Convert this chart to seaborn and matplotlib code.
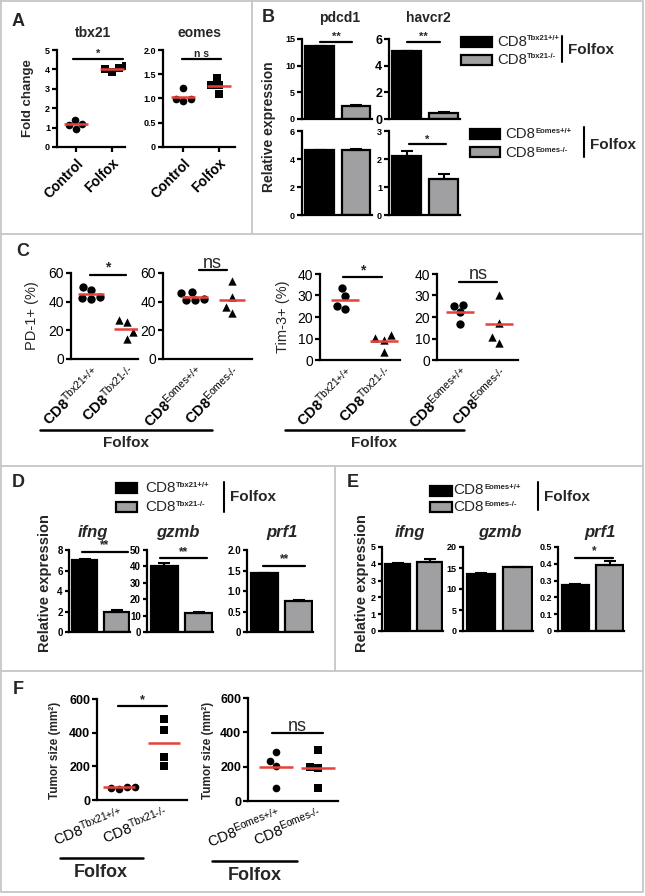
import numpy as np
import pandas as pd
import matplotlib
matplotlib.use("Agg")
import matplotlib.pyplot as plt
import seaborn as sns
from matplotlib.lines import Line2D
from matplotlib.patches import Rectangle

sns.set_theme(style="ticks")
plt.rcParams["font.family"] = ["Liberation Sans", "DejaVu Sans"]
plt.rcParams["mathtext.fontset"] = "custom"
plt.rcParams["mathtext.rm"] = "Liberation Sans"
plt.rcParams["mathtext.bf"] = "Liberation Sans:bold"
plt.rcParams["mathtext.it"] = "Liberation Sans:italic"
plt.rcParams["mathtext.sf"] = "Liberation Sans"

# ---------------- data ----------------
# Panel A: fold change
a_groups = ["Control", "Folfox"]
a_tbx21_control = [1.20, 0.95, 1.38, 1.12]
a_tbx21_folfox = [3.85, 4.15, 4.00, 4.05]
a_eomes_control = [1.21, 0.99, 0.94, 0.99]
a_eomes_folfox = [1.42, 1.28, 1.27, 1.09]

# Panel B: relative expression (mean, sem) [WT, KO]
b_genes = ["pdcd1", "havcr2"]
b_tbx_pdcd1 = [13.6, 2.4]
b_tbx_pdcd1_sem = [0.05, 0.2]
b_tbx_havcr2 = [5.07, 0.45]
b_tbx_havcr2_sem = [0.04, 0.08]
b_eom_pdcd1 = [4.62, 4.65]
b_eom_pdcd1_sem = [0.05, 0.1]
b_eom_havcr2 = [2.12, 1.30]
b_eom_havcr2_sem = [0.16, 0.15]

# Panel C: % positive
c_pd1_tbx_wt = [48, 50.5, 42.5, 42, 43]
c_pd1_tbx_ko = [27, 14, 18.5, 25.5]
c_pd1_eom_wt = [46, 41.5, 42, 47, 41.5]
c_pd1_eom_ko = [54.5, 43.5, 32, 36]
c_tim3_tbx_wt = [33.5, 23.8, 25.2, 29.9]
c_tim3_tbx_ko = [10.1, 9.3, 11.7, 3.9]
c_tim3_eom_wt = [25.7, 16.8, 22.1, 24.9]
c_tim3_eom_ko = [30.0, 17.4, 8.1, 10.6]

# Panel D: Tbx21 (mean, sem) [WT, KO]
d_genes = ["ifng", "gzmb", "prf1"]
d_ifng = [7.02, 2.0]
d_ifng_sem = [0.1, 0.1]
d_gzmb = [40.2, 11.6]
d_gzmb_sem = [2.0, 0.3]
d_prf1 = [1.43, 0.76]
d_prf1_sem = [0.02, 0.02]

# Panel E: Eomes (mean, sem) [WT, KO]
e_ifng = [4.0, 4.1]
e_ifng_sem = [0.05, 0.18]
e_gzmb = [13.65, 15.2]
e_gzmb_sem = [0.05, 0.1]
e_prf1 = [0.276, 0.395]
e_prf1_sem = [0.006, 0.022]

# Panel F: tumor size (mm2)
f_tbx_wt = [78, 68, 74, 80]
f_tbx_ko = [481, 413, 203, 254]
f_eom_wt = [287, 233, 205, 78]
f_eom_ko = [297, 199, 193, 78]

tbx_labels_c = [r"$\mathbf{CD8}^{\text{Tbx21+/+}}$", r"$\mathbf{CD8}^{\text{Tbx21-/-}}$"]
eom_labels_c = [r"$\mathbf{CD8}^{\text{Eomes+/+}}$", r"$\mathbf{CD8}^{\text{Eomes-/-}}$"]
tbx_labels_f = [r"CD8$^{\text{Tbx21+/+}}$", r"CD8$^{\text{Tbx21-/-}}$"]
eom_labels_f = [r"CD8$^{\text{Eomes+/+}}$", r"CD8$^{\text{Eomes-/-}}$"]
leg_base = "CD8"
tbx_sup = ["Tbx21+/+", "Tbx21-/-"]
eom_sup = ["Eomes+/+", "Eomes-/-"]

RED = "#e8403a"
GRAY = "#a0a0a3"
BORDER = "#c6c6c6"

W, H = 645, 896
fig = plt.figure(figsize=(W / 100, H / 100), dpi=100)
fig.patch.set_facecolor("white")
renderer = fig.canvas.get_renderer()


def px_axes(l, t, r, b):
    ax = fig.add_axes([l / W, 1 - b / H, (r - l) / W, (b - t) / H])
    ax.set_facecolor("none")
    return ax


def ftext(x, y, s, **kw):
    kw.setdefault("ha", "center")
    kw.setdefault("va", "center")
    return fig.text(x / W, 1 - y / H, s, **kw)


def fline(xs, ys, color="black", lw=1.5):
    fig.add_artist(Line2D([x / W for x in xs], [1 - y / H for y in ys],
                          transform=fig.transFigure, color=color, lw=lw))


def frect(x0, y0, x1, y1, fc):
    fig.add_artist(Rectangle((x0 / W, 1 - y1 / H), (x1 - x0) / W, (y1 - y0) / H,
                             transform=fig.transFigure, facecolor=fc,
                             edgecolor="black", lw=1.6))


def sup_text(x, y, base, sup, fs, sfs, dy=-3):
    t = ftext(x, y, base, fontsize=fs, ha="left")
    bb = t.get_window_extent(renderer=renderer)
    ftext(bb.x1 + 0.5, y + dy, sup, fontsize=sfs, fontweight="bold", ha="left")


def style(ax, tickfs, tickw, lw=1.6, ticklen=3.5):
    sns.despine(ax=ax)
    for s in ["left", "bottom"]:
        ax.spines[s].set_linewidth(lw)
        ax.spines[s].set_color("black")
    ax.tick_params(width=lw, length=ticklen, color="black", pad=1.5,
                   labelsize=tickfs, labelcolor="black")
    for lab in ax.get_yticklabels():
        lab.set_fontweight(tickw)
    ax.set_xlabel("")
    ax.set_ylabel("")
    ax.grid(False)


def sig(ax, x0, x1, y, s, fs=8, dy=0.0, weight="bold"):
    ax.plot([x0, x1], [y, y], color="black", lw=1.6, clip_on=False)
    ax.text((x0 + x1) / 2, y + dy, s, ha="center", va="bottom", fontsize=fs,
            fontweight=weight, clip_on=False)


def scatter_panel(box, groups, v0, v1, m0, m1, xlim, ylim, yticks, ylabs,
                  size=5.5, tickfs=9, tickw="normal", xlabels=None, xrot=45,
                  xfs=10, xw="normal", half=0.35, xticklen=0):
    ax = px_axes(*box)
    sns.swarmplot(x=[groups[0]] * len(v0), y=v0, order=groups, color="black",
                  marker=m0, size=size, ax=ax)
    sns.swarmplot(x=[groups[1]] * len(v1), y=v1, order=groups, color="black",
                  marker=m1, size=size, ax=ax)
    for i, v in enumerate([v0, v1]):
        ax.hlines(np.mean(v), i - half, i + half, color=RED, lw=1.8, zorder=5)
    ax.set_xlim(*xlim)
    ax.set_ylim(*ylim)
    ax.set_yticks(yticks, ylabs)
    style(ax, tickfs, tickw)
    ax.set_xticks([0, 1])
    ax.set_xticklabels(xlabels if xlabels else groups, rotation=xrot,
                       ha="right", va="top", rotation_mode="anchor",
                       fontsize=xfs, fontweight=xw)
    ax.tick_params(axis="x", length=xticklen, pad=3)
    return ax


def bar_panel(box, means, sems, ylim, yticks, ylabs, tickfs=6.5, tickw="bold",
              xlim=(-0.48, 1.44), width=0.78, ticklen=3.5):
    ax = px_axes(*box)
    df = pd.DataFrame({"grp": ["wt", "ko"], "val": means})
    sns.barplot(data=df, x="grp", y="val", hue="grp", palette=["black", GRAY],
                width=width, edgecolor="black", linewidth=1.6, errorbar=None,
                legend=False, ax=ax)
    ax.errorbar([0, 1], means, yerr=[[0, 0], sems], fmt="none", ecolor="black",
                elinewidth=1.5, capsize=4, capthick=1.5, zorder=3)
    ax.set_xlim(*xlim)
    ax.set_ylim(*ylim)
    ax.set_yticks(yticks, ylabs)
    style(ax, tickfs, tickw, ticklen=ticklen)
    ax.set_xticks([])
    return ax


# ---------------- borders ----------------
fline([1, 643, 643, 1, 1], [1, 1, 892, 892, 1], color=BORDER, lw=1.3)
fline([1, 643], [234, 234], color=BORDER, lw=1.3)
fline([252, 252], [1, 234], color=BORDER, lw=1.3)
fline([1, 643], [466, 466], color=BORDER, lw=1.3)
fline([1, 643], [671, 671], color=BORDER, lw=1.3)
fline([335, 335], [466, 671], color=BORDER, lw=1.3)

# ---------------- Panel A ----------------
ftext(18, 21, "A", fontsize=13, fontweight="bold")
ax = scatter_panel((57, 50, 125, 147), a_groups, a_tbx21_control, a_tbx21_folfox,
                   "o", "s", (-0.53, 1.36), (0, 5), [0, 1, 2, 3, 4, 5],
                   ["0", "1", "2", "3", "4", "5"], size=5.5, tickfs=6.5,
                   tickw="bold", xfs=10, xw="bold", half=0.33, xticklen=3.5)
sig(ax, -0.08, 1.31, 4.55, "*", fs=8)
ax = scatter_panel((163, 50, 235, 147), a_groups, a_eomes_control, a_eomes_folfox,
                   "o", "s", (-0.56, 1.44), (0, 2), [0, 0.5, 1, 1.5, 2],
                   ["0", "0.5", "1.0", "1.5", "2.0"], size=5.5, tickfs=6.5,
                   tickw="bold", xfs=10, xw="bold", half=0.33, xticklen=3.5)
sig(ax, -0.03, 1.06, 1.81, "n s", fs=7.5)
ftext(93, 33, "tbx21", fontsize=10, fontweight="bold")
ftext(199, 33, "eomes", fontsize=10, fontweight="bold")
ftext(28, 98, "Fold change", fontsize=9.5, fontweight="bold", rotation=90)

# ---------------- Panel B ----------------
ftext(268, 18, "B", fontsize=13, fontweight="bold")
ax = bar_panel((302, 39, 372, 119), b_tbx_pdcd1, b_tbx_pdcd1_sem, (0, 15),
               [0, 5, 10, 15], ["0", "5", "10", "15"])
sig(ax, 0.0, 0.9, 14.5, "**", fs=8)
ax = bar_panel((389, 39, 460, 119), b_tbx_havcr2, b_tbx_havcr2_sem, (0, 6),
               [0, 2, 4, 6], ["0", "2", "4", "6"], tickfs=9, tickw="bold")
sig(ax, 0.0, 0.9, 5.8, "**", fs=8)
ax = bar_panel((302, 131, 372, 215), b_eom_pdcd1, b_eom_pdcd1_sem, (0, 6),
               [0, 2, 4, 6], ["0", "2", "4", "6"])
ax = bar_panel((389, 131, 460, 215), b_eom_havcr2, b_eom_havcr2_sem, (0, 3),
               [0, 1, 2, 3], ["0", "1", "2", "3"])
sig(ax, 0.05, 1.05, 2.52, "*", fs=8)
ftext(340, 18, b_genes[0], fontsize=10, fontweight="bold")
ftext(428, 18, b_genes[1], fontsize=10, fontweight="bold")
ftext(269, 127, "Relative expression", fontsize=10, fontweight="bold", rotation=90)
# legends
frect(461, 37, 492, 47, "black")
frect(461, 55, 492, 65, GRAY)
sup_text(497, 42, leg_base, tbx_sup[0], 10.8, 5.5)
sup_text(497, 60, leg_base, tbx_sup[1], 10.8, 5.5)
fline([562, 562], [36, 62])
ftext(568, 50, "Folfox", fontsize=11, fontweight="bold", ha="left")
frect(470, 129, 500, 139, "black")
frect(470, 147, 500, 157, GRAY)
sup_text(505, 134, leg_base, eom_sup[0], 10.8, 5.5)
sup_text(505, 153, leg_base, eom_sup[1], 10.8, 5.5)
fline([584, 584], [127, 157])
ftext(590, 145, "Folfox", fontsize=11, fontweight="bold", ha="left")

# ---------------- Panel C ----------------
ftext(23, 251, "C", fontsize=13, fontweight="bold")
ax = scatter_panel((71, 273, 138, 359), ["wt", "ko"], c_pd1_tbx_wt, c_pd1_tbx_ko,
                   "o", "^", (-0.55, 1.3), (0, 60), [0, 20, 40, 60],
                   ["0", "20", "40", "60"], size=6, tickfs=10, xlabels=tbx_labels_c,
                   xfs=10.5)
sig(ax, -0.03, 0.97, 58.8, "*", fs=10)
ax = scatter_panel((163, 273, 252, 359), ["wt", "ko"], c_pd1_eom_wt, c_pd1_eom_ko,
                   "o", "^", (-0.86, 1.54), (0, 60), [0, 20, 40, 60],
                   ["0", "20", "40", "60"], size=6, tickfs=10, xlabels=eom_labels_c,
                   xfs=10.5)
sig(ax, 0.1, 0.86, 61.8, "ns", fs=13, weight="normal", dy=-1.0)
ax = scatter_panel((320, 274, 400, 360), ["wt", "ko"], c_tim3_tbx_wt, c_tim3_tbx_ko,
                   "o", "^", (-0.64, 1.41), (0, 40), [0, 10, 20, 30, 40],
                   ["0", "10", "20", "30", "40"], size=6, tickfs=10,
                   xlabels=tbx_labels_c, xfs=10.5)
sig(ax, -0.05, 0.95, 38.6, "*", fs=10)
ax = scatter_panel((437, 274, 518, 360), ["wt", "ko"], c_tim3_eom_wt, c_tim3_eom_ko,
                   "o", "^", (-0.59, 1.49), (0, 40), [0, 10, 20, 30, 40],
                   ["0", "10", "20", "30", "40"], size=6, tickfs=10,
                   xlabels=eom_labels_c, xfs=10.5)
sig(ax, -0.03, 0.95, 36.3, "ns", fs=13, weight="normal", dy=-0.7)
ftext(32, 316, "PD-1+ (%)", fontsize=10.5, rotation=90)
ftext(283, 317, "Tim-3+ (%)", fontsize=10.5, rotation=90)
fline([40, 212], [430, 430], lw=1.8)
ftext(126, 443, "Folfox", fontsize=11, fontweight="bold")
fline([285, 464], [430, 430], lw=1.8)
ftext(374, 443, "Folfox", fontsize=11, fontweight="bold")

# ---------------- Panel D ----------------
ftext(18, 482, "D", fontsize=13, fontweight="bold")
ax = bar_panel((69, 550, 130, 632), d_ifng, d_ifng_sem, (0, 8), [0, 2, 4, 6, 8],
               ["0", "2", "4", "6", "8"], tickfs=7, xlim=(-0.5, 1.42), ticklen=3)
sig(ax, -0.09, 1.35, 7.84, "**", fs=8.5)
ax = bar_panel((147, 550, 213, 632), d_gzmb, d_gzmb_sem, (0, 50),
               [0, 10, 20, 30, 40, 50], ["0", "10", "20", "30", "40", "50"],
               tickfs=7, xlim=(-0.5, 1.42), ticklen=3)
sig(ax, -0.12, 1.24, 44.9, "**", fs=8.5)
ax = bar_panel((247, 550, 313, 632), d_prf1, d_prf1_sem, (0, 2),
               [0, 0.5, 1, 1.5, 2], ["0", "0.5", "1.0", "1.5", "2.0"],
               tickfs=7, xlim=(-0.5, 1.42), ticklen=3)
sig(ax, -0.03, 1.19, 1.62, "**", fs=8.5)
for x, g in zip([93, 178, 282], d_genes):
    ftext(x, 532, g, fontsize=12, fontweight="bold", fontstyle="italic")
ftext(45, 583, "Relative expression", fontsize=10.5, fontweight="bold", rotation=90)
frect(116, 483, 137, 493, "black")
frect(116, 502, 137, 512, GRAY)
sup_text(145, 488, leg_base, tbx_sup[0], 11, 5.6)
sup_text(145, 507, leg_base, tbx_sup[1], 11, 5.6)
fline([224, 224], [482, 512])
ftext(230, 497, "Folfox", fontsize=11, fontweight="bold", ha="left")

# ---------------- Panel E ----------------
ftext(353, 482, "E", fontsize=13, fontweight="bold")
ax = bar_panel((382, 547, 443, 631), e_ifng, e_ifng_sem, (0, 5), [0, 1, 2, 3, 4, 5],
               ["0", "1", "2", "3", "4", "5"], tickfs=6.5, xlim=(-0.5, 1.42),
               ticklen=3)
ax = bar_panel((463, 547, 533, 631), e_gzmb, e_gzmb_sem, (0, 20), [0, 5, 10, 15, 20],
               ["0", "5", "10", "15", "20"], tickfs=6.5, xlim=(-0.5, 1.42),
               ticklen=3)
ax = bar_panel((558, 547, 624, 631), e_prf1, e_prf1_sem, (0, 0.5),
               [0, 0.1, 0.2, 0.3, 0.4, 0.5],
               ["0", "0.1", "0.2", "0.3", "0.4", "0.5"], tickfs=6.5,
               xlim=(-0.5, 1.42), ticklen=3)
sig(ax, -0.01, 1.1, 0.437, "*", fs=8.5)
for x, g in zip([410, 500, 600], d_genes):
    ftext(x, 532, g, fontsize=12, fontweight="bold", fontstyle="italic")
ftext(362, 583, "Relative expression", fontsize=10.5, fontweight="bold", rotation=90)
frect(430, 486, 452, 496, "black")
frect(430, 502, 452, 512, GRAY)
sup_text(453, 490, leg_base, eom_sup[0], 11, 5.6)
sup_text(453, 507, leg_base, eom_sup[1], 11, 5.6)
fline([538, 538], [482, 510])
ftext(544, 497, "Folfox", fontsize=11, fontweight="bold", ha="left")

# ---------------- Panel F ----------------
ftext(18, 689, "F", fontsize=13, fontweight="bold")
ax = scatter_panel((97, 699, 187, 800), ["wt", "ko"], f_tbx_wt, f_tbx_ko, "o", "s",
                   (-0.49, 1.51), (0, 600), [0, 200, 400, 600],
                   ["0", "200", "400", "600"], size=5.5, tickfs=9, tickw="bold",
                   xlabels=tbx_labels_f, xrot=22, xfs=10.5, half=0.35)
sig(ax, -0.02, 1.07, 556, "*", fs=9)
ax = scatter_panel((248, 698, 338, 801), ["wt", "ko"], f_eom_wt, f_eom_ko, "o", "s",
                   (-0.67, 1.48), (0, 600), [0, 200, 400, 600],
                   ["0", "200", "400", "600"], size=5.5, tickfs=9, tickw="bold",
                   xlabels=eom_labels_f, xrot=22, xfs=10.5, half=0.4)
sig(ax, -0.1, 1.12, 395, "ns", fs=13, weight="normal", dy=-8)
ftext(55, 750, "Tumor size (mm²)", fontsize=8.5, fontweight="bold", rotation=90)
ftext(208, 750, "Tumor size (mm²)", fontsize=8.5, fontweight="bold", rotation=90)
fline([60, 143], [858, 858], lw=1.8)
ftext(101, 872, "Folfox", fontsize=13, fontweight="bold")
fline([212, 297], [861, 861], lw=1.8)
ftext(255, 875, "Folfox", fontsize=13, fontweight="bold")

fig.savefig("out.png", dpi=100)
